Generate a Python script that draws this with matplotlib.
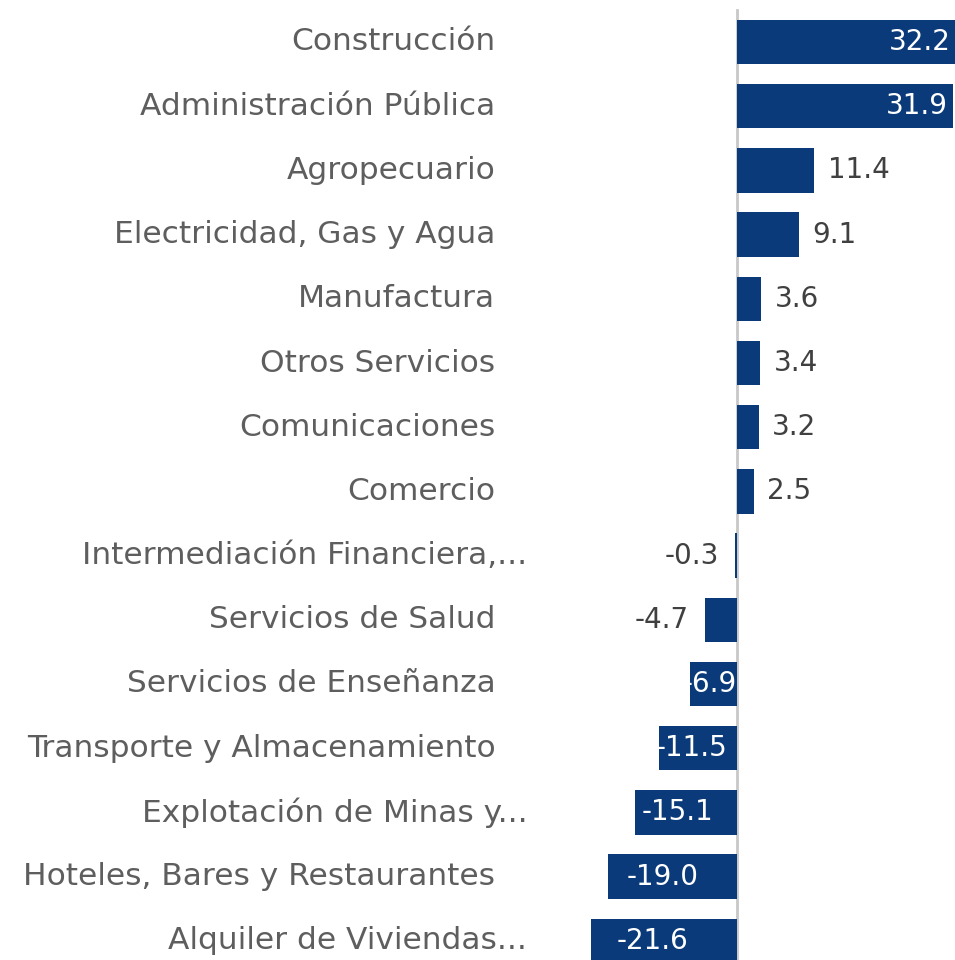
import matplotlib
matplotlib.use("Agg")
import matplotlib.pyplot as plt

plt.rcParams['font.family'] = ['DejaVu Sans']

categorias = ["Construcción", "Administración Pública", "Agropecuario",
              "Electricidad, Gas y Agua", "Manufactura", "Otros Servicios",
              "Comunicaciones", "Comercio", "Intermediación Financiera,...",
              "Servicios de Salud", "Servicios de Enseñanza",
              "Transporte y Almacenamiento", "Explotación de Minas y...",
              "Hoteles, Bares y Restaurantes", "Alquiler de Viviendas..."]
valores = [32.2, 31.9, 11.4, 9.1, 3.6, 3.4, 3.2, 2.5, -0.3, -4.7, -6.9,
           -11.5, -15.1, -19.0, -21.6]

azul = "#0b3a7a"
gris_txt = "#5e5e5e"
gris_val = "#404040"

fig = plt.figure(figsize=(9.55, 9.6), dpi=100)
ax = fig.add_axes([0, 0, 1, 1])

px = 6.77  # pixels por unidad
ax.set_xlim(-737 / px, (955 - 737) / px)
ax.set_ylim((960 - 42) / 64.2, -42 / 64.2)

y = list(range(len(categorias)))
ax.barh(y, valores, height=0.69, color=azul, zorder=2)
ax.plot([0, 0], [-0.5, 15], color="#c8c8c8", lw=2, zorder=1)

fs_cat = 22.5
fs = 20
for i, (cat, v) in enumerate(zip(categorias, valores)):
    xl = -31.0 if cat.endswith("...") else -35.7
    ax.text(xl, i, cat, ha="right", va="center", fontsize=fs_cat,
            color=gris_txt)
    if v > 20:
        ax.text(v - 0.7, i, f"{v:.1f}", ha="right", va="center",
                fontsize=fs, color="white", zorder=3)
    elif v > 0:
        ax.text(v + 2.0, i, f"{v:.1f}", ha="left", va="center",
                fontsize=fs, color=gris_val)
    elif v > -5:
        ax.text(v - 2.4, i, f"{v:.1f}", ha="right", va="center",
                fontsize=fs, color=gris_val)
    else:
        ax.text(v * 0.58, i, f"{v:.1f}", ha="center", va="center",
                fontsize=fs, color="white", zorder=3)

ax.axis("off")
fig.savefig("out.png", dpi=100, facecolor="white")
